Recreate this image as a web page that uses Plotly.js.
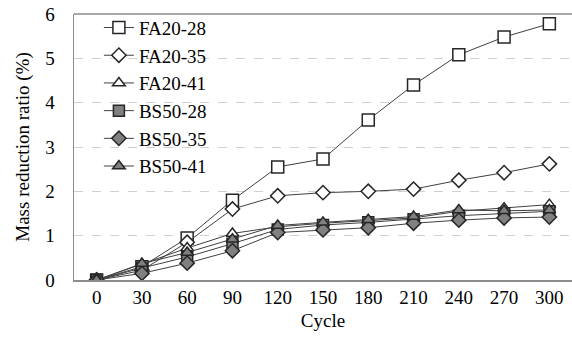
<!DOCTYPE html>
<html><head><meta charset="utf-8">
<script src="https://cdn.plot.ly/plotly-3.0.1.min.js"></script>
<style>html,body{margin:0;padding:0;background:#fff}#chart{width:572px;height:342px}</style>
</head><body><div id="chart"></div>
<script>
const cycles = [0, 30, 60, 90, 120, 150, 180, 210, 240, 270, 300];
const seriesNames = ["FA20-28", "FA20-35", "FA20-41", "BS50-28", "BS50-35", "BS50-41"];
const fa20_28 = [0, 0.30, 0.95, 1.80, 2.55, 2.73, 3.61, 4.40, 5.08, 5.48, 5.78];
const fa20_35 = [0, 0.22, 0.85, 1.60, 1.90, 1.97, 2.00, 2.05, 2.25, 2.42, 2.62];
const fa20_41 = [0, 0.36, 0.72, 1.05, 1.20, 1.28, 1.34, 1.40, 1.55, 1.62, 1.70];
const bs50_28 = [0, 0.27, 0.52, 0.82, 1.14, 1.24, 1.30, 1.37, 1.45, 1.50, 1.55];
const bs50_35 = [0, 0.15, 0.38, 0.66, 1.07, 1.13, 1.18, 1.28, 1.35, 1.40, 1.42];
const bs50_41 = [0, 0.37, 0.62, 0.92, 1.23, 1.30, 1.36, 1.43, 1.58, 1.56, 1.58];
const yTicks = [0, 1, 2, 3, 4, 5, 6];

const values = [fa20_28, fa20_35, fa20_41, bs50_28, bs50_35, bs50_41];
const symbols = ["square", "diamond", "triangle-up", "square", "diamond", "triangle-up"];
const fills = ["#ffffff", "#ffffff", "#ffffff", "#808080", "#808080", "#808080"];
const sizes = [12, 11, 11, 11, 11, 11];

const traces = values.map((v, i) => ({
  x: cycles, y: v, name: seriesNames[i], type: "scatter", mode: "lines+markers",
  line: {color: "#404040", width: 1},
  marker: {symbol: symbols[i], size: sizes[i], color: fills[i], line: {color: "#262626", width: 1.5}}
}));

const font = {family: "Liberation Serif, Times New Roman, serif", size: 19, color: "#000"};
const layout = {
  width: 572, height: 342,
  margin: {l: 74, r: 0, t: 14, b: 62},
  paper_bgcolor: "#fff", plot_bgcolor: "#fff",
  font: font,
  showlegend: true,
  legend: {x: 0.05, y: 1.02, xanchor: "left", yanchor: "top", bgcolor: "rgba(0,0,0,0)",
           font: font, traceorder: "normal", itemwidth: 30},
  xaxis: {
    range: [-15, 315], tickvals: cycles, ticktext: cycles.map(String),
    showgrid: false, zeroline: false, showline: true, linecolor: "#8c8c8c", linewidth: 1.5,
    mirror: false, ticks: "", tickfont: font,
    title: {text: "Cycle", font: font, standoff: 6}
  },
  yaxis: {
    range: [0, 6], tickvals: yTicks, ticktext: yTicks.map(String),
    showgrid: true, gridcolor: "#d0d0d0", griddash: "dash", gridwidth: 1,
    zeroline: false, showline: true, linecolor: "#8c8c8c", linewidth: 1.5,
    mirror: false, ticks: "", tickfont: font, ticklabelstandoff: 14,
    title: {text: "Mass reduction ratio (%)", font: font, standoff: 10}
  },
  shapes: [{type: "line", xref: "paper", yref: "paper", x0: 0, x1: 1, y0: 1, y1: 1,
            line: {color: "#8c8c8c", width: 1.5}}]
};
Plotly.newPlot("chart", traces, layout, {displayModeBar: false, staticPlot: true});
</script></body></html>
